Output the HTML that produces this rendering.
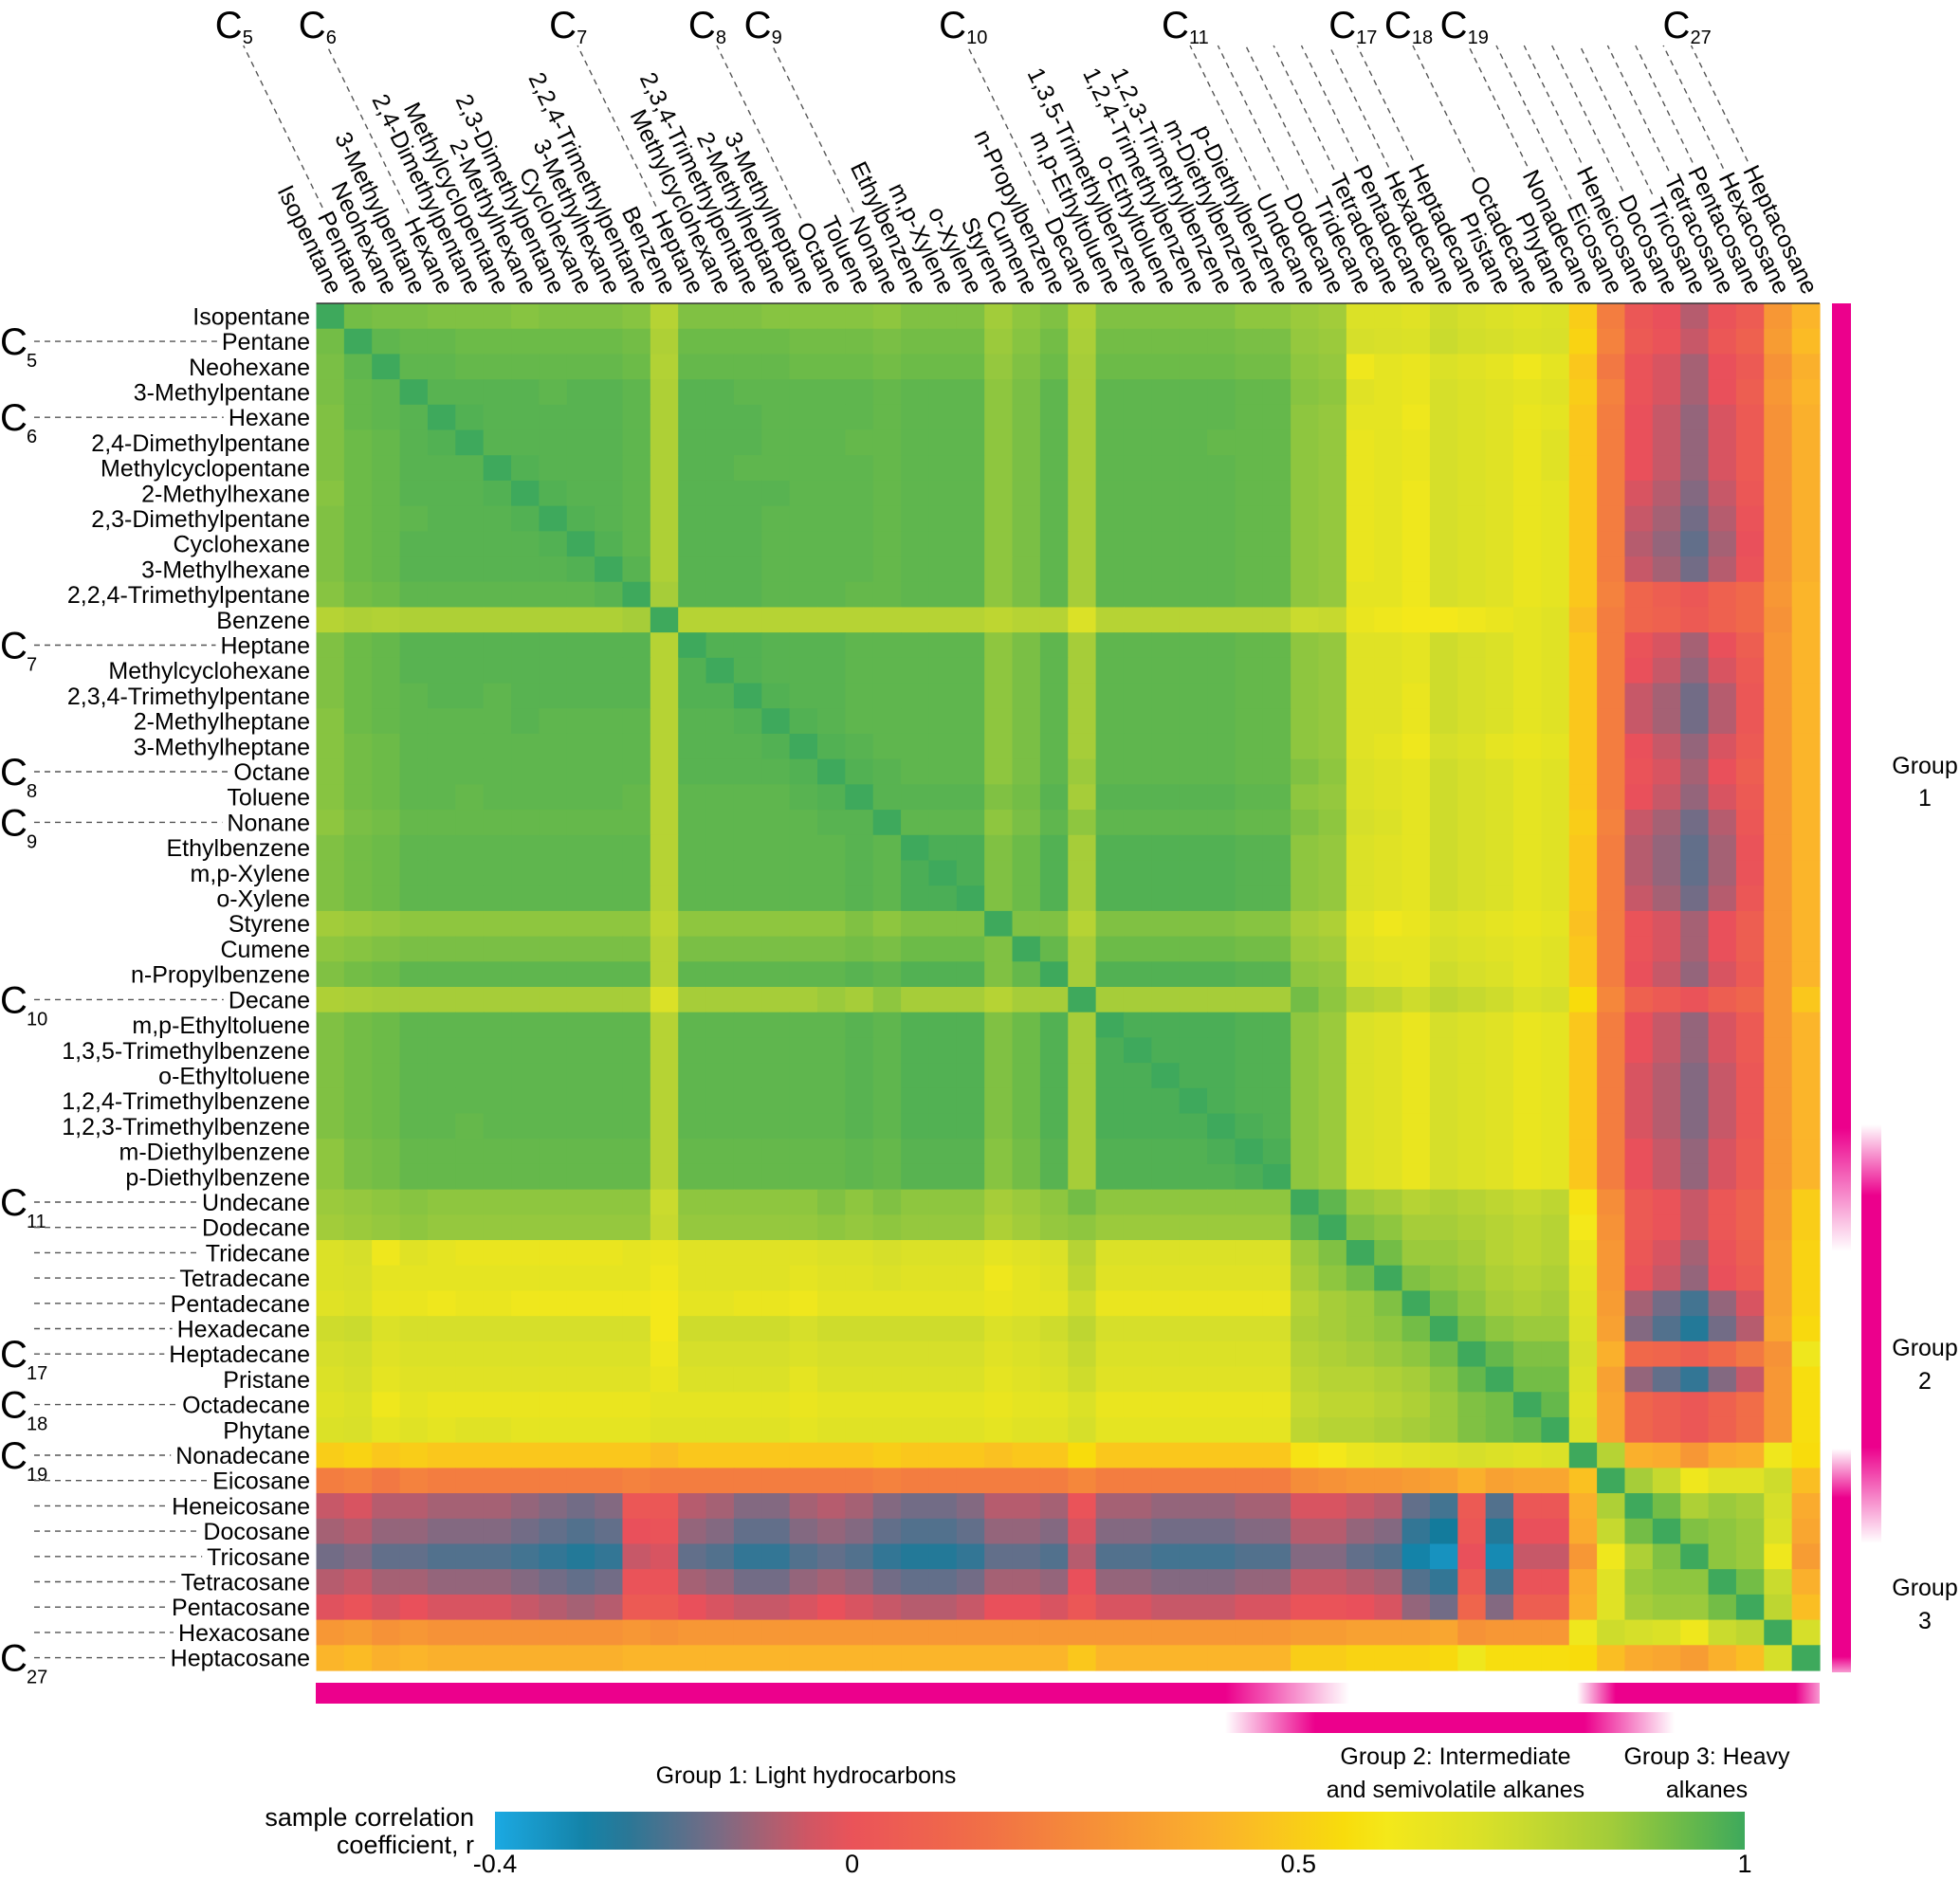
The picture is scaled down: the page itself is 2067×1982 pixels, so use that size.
<!DOCTYPE html>
<html><head><meta charset="utf-8"><title>Correlation heatmap</title>
<style>
html,body{margin:0;padding:0;background:#fff;}
svg{display:block;font-family:"Liberation Sans",Arial,sans-serif;}
</style></head>
<body>
<svg id="chart" xmlns="http://www.w3.org/2000/svg" width="2067" height="1982" viewBox="0 0 2067 1982">
<defs>
<linearGradient id="cbGrad" x1="0" y1="0" x2="1" y2="0"></linearGradient>
<linearGradient id="g1v" x1="0" y1="0" x2="0" y2="1">
<stop offset="0" stop-color="#ec008c"/><stop offset="0.87" stop-color="#ec008c"/><stop offset="1" stop-color="#ec008c" stop-opacity="0"/></linearGradient>
<linearGradient id="g2v" x1="0" y1="0" x2="0" y2="1">
<stop offset="0" stop-color="#ec008c" stop-opacity="0"/><stop offset="0.17" stop-color="#ec008c"/><stop offset="0.77" stop-color="#ec008c"/><stop offset="1" stop-color="#ec008c" stop-opacity="0"/></linearGradient>
<linearGradient id="g3v" x1="0" y1="0" x2="0" y2="1">
<stop offset="0" stop-color="#ec008c" stop-opacity="0"/><stop offset="0.22" stop-color="#ec008c"/><stop offset="0.93" stop-color="#ec008c"/><stop offset="1" stop-color="#ec008c" stop-opacity="0.4"/></linearGradient>
<linearGradient id="g1h" x1="0" y1="0" x2="1" y2="0">
<stop offset="0" stop-color="#ec008c"/><stop offset="0.88" stop-color="#ec008c"/><stop offset="1" stop-color="#ec008c" stop-opacity="0"/></linearGradient>
<linearGradient id="g2h" x1="0" y1="0" x2="1" y2="0">
<stop offset="0" stop-color="#ec008c" stop-opacity="0"/><stop offset="0.2" stop-color="#ec008c"/><stop offset="0.8" stop-color="#ec008c"/><stop offset="1" stop-color="#ec008c" stop-opacity="0"/></linearGradient>
<linearGradient id="g3h" x1="0" y1="0" x2="1" y2="0">
<stop offset="0" stop-color="#ec008c" stop-opacity="0"/><stop offset="0.16" stop-color="#ec008c"/><stop offset="0.9" stop-color="#ec008c"/><stop offset="1" stop-color="#ec008c" stop-opacity="0.4"/></linearGradient>
</defs>
<g id="cells"></g>
<g id="labels"></g>

<rect x="1932" y="320" width="20" height="1000" fill="url(#g1v)"/>
<rect x="1963" y="1186" width="21" height="442" fill="url(#g2v)"/>
<rect x="1932" y="1528" width="20" height="236" fill="url(#g3v)"/>
<rect x="333" y="1775" width="1090" height="22" fill="url(#g1h)"/>
<rect x="1663" y="1775" width="256" height="22" fill="url(#g3h)"/>
<rect x="1292" y="1806" width="474" height="22" fill="url(#g2h)"/>

<g font-size="25" text-anchor="middle" fill="#000"><text x="2030" y="816">Group</text><text x="2030" y="850">1</text></g>
<g font-size="25" text-anchor="middle" fill="#000"><text x="2030" y="1430">Group</text><text x="2030" y="1465">2</text></g>
<g font-size="25" text-anchor="middle" fill="#000"><text x="2030" y="1683">Group</text><text x="2030" y="1718">3</text></g>

<text x="850" y="1881" font-size="25" text-anchor="middle">Group 1: Light hydrocarbons</text>
<g font-size="25" text-anchor="middle"><text x="1535" y="1861">Group 2: Intermediate</text><text x="1535" y="1896">and semivolatile alkanes</text></g>
<g font-size="25" text-anchor="middle"><text x="1800" y="1861">Group 3: Heavy</text><text x="1800" y="1896">alkanes</text></g>

<g font-size="27" text-anchor="end"><text x="500" y="1926">sample correlation</text><text x="500" y="1955">coefficient, r</text></g>
<rect x="522" y="1911" width="1318" height="40" fill="url(#cbGrad)"/>
<g id="cbTicks"></g>
</svg>
<script>
const species = ["Isopentane","Pentane","Neohexane","3-Methylpentane","Hexane","2,4-Dimethylpentane","Methylcyclopentane","2-Methylhexane","2,3-Dimethylpentane","Cyclohexane","3-Methylhexane","2,2,4-Trimethylpentane","Benzene","Heptane","Methylcyclohexane","2,3,4-Trimethylpentane","2-Methylheptane","3-Methylheptane","Octane","Toluene","Nonane","Ethylbenzene","m,p-Xylene","o-Xylene","Styrene","Cumene","n-Propylbenzene","Decane","m,p-Ethyltoluene","1,3,5-Trimethylbenzene","o-Ethyltoluene","1,2,4-Trimethylbenzene","1,2,3-Trimethylbenzene","m-Diethylbenzene","p-Diethylbenzene","Undecane","Dodecane","Tridecane","Tetradecane","Pentadecane","Hexadecane","Heptadecane","Pristane","Octadecane","Phytane","Nonadecane","Eicosane","Heneicosane","Docosane","Tricosane","Tetracosane","Pentacosane","Hexacosane","Heptacosane"];
const carbonIdx = [1,4,13,18,20,27,35,41,43,45,53];
const carbonNum = ["5","6","7","8","9","10","11","17","18","19","27"];
const leaderOnlyIdx = [36,37,38,39,40,46,47,48,49,50,51,52];
const cbTickValues = [-0.4,0,0.5,1];
const cbTickLabels = ["-0.4","0","0.5","1"];
// correlation r x100
const rValues = [
[100,92,91,91,90,90,90,89,90,90,90,89,80,90,90,90,89,89,89,89,88,90,90,90,85,88,90,82,90,90,90,90,90,88,88,86,85,70,70,68,74,72,70,68,70,50,20,2,-2,-8,0,5,30,42],
[92,100,95,94,94,93,93,93,93,93,93,92,82,93,93,93,93,92,92,92,91,92,92,92,86,89,92,83,92,92,92,92,92,91,91,87,86,72,71,70,75,73,72,70,71,52,22,4,0,-6,2,8,32,44],
[91,95,100,95,95,94,94,94,94,94,94,93,81,94,94,94,94,93,93,93,92,93,93,93,87,90,93,84,93,93,93,93,93,92,92,88,87,62,66,64,70,68,66,62,66,48,18,0,-4,-10,-2,4,28,40],
[91,94,95,100,96,96,96,96,95,96,96,95,82,96,96,95,95,95,95,95,94,95,95,95,88,91,95,84,95,95,95,95,95,94,94,89,88,68,66,64,72,70,68,66,68,50,22,0,-4,-10,-2,6,30,42],
[90,94,95,96,100,97,96,96,96,96,96,95,82,96,96,96,95,95,95,95,94,95,95,95,88,91,95,84,95,95,95,95,95,94,94,88,87,66,66,62,72,70,68,64,66,48,20,-2,-6,-12,-4,4,28,40],
[90,93,94,96,97,100,96,96,96,96,96,95,82,96,96,96,95,95,95,94,94,95,95,95,88,91,95,84,95,95,95,95,94,94,94,88,87,64,66,64,72,70,68,64,68,48,20,-2,-6,-12,-4,4,28,40],
[90,93,94,96,96,96,100,97,96,96,96,95,82,96,96,95,95,95,95,95,94,95,95,95,88,91,95,84,95,95,95,95,95,94,94,88,87,64,66,64,72,70,68,64,68,48,20,-2,-6,-12,-4,4,28,40],
[89,93,94,96,96,96,97,100,97,96,96,95,82,96,96,96,96,95,95,95,94,95,95,95,88,91,95,84,95,95,95,95,95,94,94,88,87,64,66,62,72,70,68,64,66,48,20,-4,-8,-14,-6,2,28,40],
[90,93,94,95,96,96,96,97,100,97,96,95,82,96,96,96,95,95,95,95,94,95,95,95,88,91,95,84,95,95,95,95,95,94,94,88,87,64,66,62,72,70,68,64,66,48,20,-6,-10,-16,-8,0,28,40],
[90,93,94,96,96,96,96,96,97,100,97,95,82,96,96,96,95,95,95,95,94,95,95,95,88,91,95,84,95,95,95,95,95,94,94,88,87,64,66,62,72,70,68,64,66,48,20,-8,-12,-18,-10,-2,28,40],
[90,93,94,96,96,96,96,96,96,97,100,96,82,96,96,96,95,95,95,95,94,95,95,95,88,91,95,84,95,95,95,95,95,94,94,88,87,64,66,62,72,70,68,64,66,48,20,-6,-10,-16,-8,0,28,40],
[89,92,93,95,95,95,95,95,95,95,96,100,84,96,96,96,95,95,95,94,94,95,95,95,88,91,95,84,95,95,95,95,95,94,94,88,87,66,66,62,72,70,68,64,66,48,22,10,6,2,8,12,30,42],
[80,82,81,82,82,82,82,82,82,82,82,84,100,80,80,80,80,80,80,80,80,80,80,80,78,80,80,70,80,80,80,80,80,80,80,75,76,64,62,60,60,62,64,66,68,45,20,10,8,4,8,12,28,42],
[90,93,94,96,96,96,96,96,96,96,96,96,80,100,97,97,96,96,96,95,95,95,95,95,88,91,95,84,95,95,95,95,95,94,94,88,87,68,68,66,74,72,70,66,68,48,20,0,-4,-10,-2,6,30,42],
[90,93,94,96,96,96,96,96,96,96,96,96,80,97,100,97,96,96,96,95,95,95,95,95,88,91,95,84,95,95,95,95,95,94,94,88,87,68,68,66,74,72,70,66,68,48,20,-2,-6,-12,-4,4,30,42],
[90,93,94,95,96,96,95,96,96,96,96,96,80,97,97,100,97,96,96,95,95,95,95,95,88,91,95,84,95,95,95,95,95,94,94,88,87,68,68,64,74,72,70,66,68,48,20,-6,-10,-16,-8,2,30,42],
[89,93,94,95,95,95,95,96,95,95,95,95,80,96,96,97,100,97,96,95,95,95,95,95,88,91,95,84,95,95,95,95,95,94,94,88,87,68,68,64,74,72,70,66,68,48,20,-6,-10,-16,-8,2,30,42],
[89,92,93,95,95,95,95,95,95,95,95,95,80,96,96,96,97,100,97,96,95,95,95,95,88,91,95,84,95,95,95,95,95,94,94,88,87,68,66,62,72,70,66,64,66,48,20,-2,-6,-12,-4,4,30,42],
[89,92,93,95,95,95,95,95,95,95,95,95,80,96,96,96,96,97,100,97,96,95,95,95,88,91,95,86,95,95,95,95,95,94,94,90,88,70,68,66,74,72,70,66,68,48,20,0,-4,-10,-2,6,30,42],
[89,92,93,95,95,94,95,95,95,95,95,94,80,95,95,95,95,96,97,100,96,96,96,96,90,92,96,84,96,96,96,96,96,95,95,88,87,70,68,66,74,72,70,66,68,48,20,-2,-6,-12,-4,4,30,42],
[88,91,92,94,94,94,94,94,94,94,94,94,80,95,95,95,95,95,96,96,100,95,95,95,88,91,95,88,95,95,95,95,95,94,94,90,88,72,70,66,74,72,70,66,68,50,22,-6,-10,-16,-8,2,30,42],
[90,92,93,95,95,95,95,95,95,95,95,95,80,95,95,95,95,95,95,96,95,100,98,98,90,93,97,84,97,97,97,97,97,96,96,88,87,70,68,66,74,72,70,66,68,48,20,-8,-12,-18,-10,0,30,42],
[90,92,93,95,95,95,95,95,95,95,95,95,80,95,95,95,95,95,95,96,95,98,100,98,90,93,97,84,97,97,97,97,97,96,96,88,87,70,68,66,74,72,70,66,68,48,20,-8,-12,-18,-10,0,30,42],
[90,92,93,95,95,95,95,95,95,95,95,95,80,95,95,95,95,95,95,96,95,98,98,100,90,93,97,84,97,97,97,97,97,96,96,88,87,70,68,66,74,72,70,66,68,48,20,-6,-10,-16,-8,2,30,42],
[85,86,87,88,88,88,88,88,88,88,88,88,78,88,88,88,88,88,88,90,88,90,90,90,100,90,90,80,90,90,90,90,90,89,89,84,82,66,62,64,70,68,66,64,66,46,20,0,-4,-10,-2,6,30,42],
[88,89,90,91,91,91,91,91,91,91,91,91,80,91,91,91,91,91,91,92,91,93,93,93,90,100,94,84,93,93,93,93,93,92,92,86,85,68,66,66,72,70,68,66,68,48,20,0,-4,-10,-2,6,30,42],
[90,92,93,95,95,95,95,95,95,95,95,95,80,95,95,95,95,95,95,96,95,97,97,97,90,94,100,84,97,97,97,97,97,96,96,88,87,70,68,66,74,72,70,66,68,48,20,-2,-6,-12,-4,4,30,42],
[82,83,84,84,84,84,84,84,84,84,84,84,70,84,84,84,84,84,86,84,88,84,84,84,80,84,84,100,84,84,84,84,84,84,84,92,88,80,78,74,78,76,74,70,72,55,24,8,4,0,6,10,30,48],
[90,92,93,95,95,95,95,95,95,95,95,95,80,95,95,95,95,95,95,96,95,97,97,97,90,93,97,84,100,98,98,98,98,97,97,88,86,70,68,64,72,70,68,64,66,48,20,-2,-6,-12,-4,4,30,42],
[90,92,93,95,95,95,95,95,95,95,95,95,80,95,95,95,95,95,95,96,95,97,97,97,90,93,97,84,98,100,98,98,98,97,97,88,86,70,68,64,72,70,68,64,66,48,20,-2,-6,-12,-4,4,30,42],
[90,92,93,95,95,95,95,95,95,95,95,95,80,95,95,95,95,95,95,96,95,97,97,97,90,93,97,84,98,98,100,98,98,97,97,88,86,70,68,64,72,70,68,64,66,48,20,-4,-8,-14,-6,2,30,42],
[90,92,93,95,95,95,95,95,95,95,95,95,80,95,95,95,95,95,95,96,95,97,97,97,90,93,97,84,98,98,98,100,98,97,97,88,86,70,68,64,72,70,68,64,66,48,20,-4,-8,-14,-6,2,30,42],
[90,92,93,95,95,94,95,95,95,95,95,95,80,95,95,95,95,95,95,96,95,97,97,97,90,93,97,84,98,98,98,98,100,98,97,88,86,70,68,64,72,70,68,64,66,48,20,-4,-8,-14,-6,2,30,42],
[88,91,92,94,94,94,94,94,94,94,94,94,80,94,94,94,94,94,94,95,94,96,96,96,89,92,96,84,97,97,97,97,98,100,98,88,86,70,68,64,72,70,68,64,66,48,20,-2,-6,-12,-4,4,30,42],
[88,91,92,94,94,94,94,94,94,94,94,94,80,94,94,94,94,94,94,95,94,96,96,96,89,92,96,84,97,97,97,97,97,98,100,88,86,70,68,64,72,70,68,64,66,48,20,-2,-6,-12,-4,4,30,42],
[86,87,88,89,88,88,88,88,88,88,88,88,75,88,88,88,88,88,90,88,90,88,88,88,84,86,88,92,88,88,88,88,88,88,88,100,95,86,84,80,82,80,78,76,78,58,26,4,0,-6,2,8,32,50],
[85,86,87,88,87,87,87,87,87,87,87,87,76,87,87,87,87,87,88,87,88,87,87,87,82,85,87,88,86,86,86,86,86,86,86,95,100,90,88,84,84,82,80,78,80,60,28,4,0,-6,2,8,32,50],
[70,72,62,68,66,64,64,64,64,64,64,66,64,68,68,68,68,68,70,70,72,70,70,70,66,68,70,80,70,70,70,70,70,70,70,86,90,100,92,86,86,84,80,78,80,64,30,2,-4,-10,0,6,34,52],
[70,71,66,66,66,66,66,66,66,66,66,66,62,68,68,68,68,66,68,68,70,68,68,68,62,66,68,78,68,68,68,68,68,68,68,84,88,92,100,90,88,86,82,80,82,66,30,0,-6,-12,-2,4,34,52],
[68,70,64,64,62,64,64,62,62,62,62,62,60,66,66,64,64,62,66,66,66,66,66,66,64,66,66,74,64,64,64,64,64,64,64,80,84,86,90,100,92,88,84,82,84,68,32,-10,-16,-22,-12,-4,34,52],
[74,75,70,72,72,72,72,72,72,72,72,72,60,74,74,74,74,72,74,74,74,74,74,74,70,72,74,78,72,72,72,72,72,72,72,82,84,86,88,92,100,92,88,86,86,70,34,-14,-20,-26,-16,-8,36,54],
[72,73,68,70,70,70,70,70,70,70,70,70,62,72,72,72,72,70,72,72,72,72,72,72,68,70,72,76,70,70,70,70,70,70,70,80,82,84,86,88,92,100,94,90,90,72,40,12,10,6,12,18,28,62],
[70,72,66,68,68,68,68,68,68,68,68,68,64,70,70,70,70,66,70,70,70,70,70,70,66,68,70,74,68,68,68,68,68,68,68,78,80,80,82,84,88,94,100,92,92,70,34,-12,-18,-24,-14,-6,30,56],
[68,70,62,66,64,64,64,64,64,64,64,64,66,66,66,66,66,64,66,66,66,66,66,66,64,66,66,70,64,64,64,64,64,64,64,76,78,78,80,82,86,90,92,100,94,68,36,10,6,2,8,14,30,56],
[70,71,66,68,66,68,68,66,66,66,66,66,68,68,68,68,68,66,68,68,68,68,68,68,66,68,68,72,66,66,66,66,66,66,66,78,80,80,82,84,86,90,92,94,100,70,36,10,6,2,8,14,30,56],
[50,52,48,50,48,48,48,48,48,48,48,48,45,48,48,48,48,48,48,48,50,48,48,48,46,48,48,55,48,48,48,48,48,48,48,58,60,64,66,68,70,72,70,68,70,100,80,40,38,30,38,40,62,55],
[20,22,18,22,20,20,20,20,20,20,20,22,20,20,20,20,20,20,20,20,22,20,20,20,20,20,20,24,20,20,20,20,20,20,20,26,28,30,30,32,34,40,34,36,36,46,100,84,76,62,68,68,74,45],
[-6,-4,-8,-8,-10,-10,-10,-12,-14,-16,-14,2,2,-8,-10,-14,-14,-10,-8,-10,-14,-16,-16,-14,-8,-8,-10,0,-10,-10,-12,-12,-12,-10,-10,-4,-4,-6,-8,-18,-22,4,-20,2,2,40,82,100,92,82,86,84,72,38],
[-10,-8,-12,-12,-14,-14,-14,-16,-18,-20,-18,-2,0,-12,-14,-18,-18,-14,-12,-14,-18,-20,-20,-18,-12,-12,-14,-4,-14,-14,-16,-16,-16,-14,-14,-8,-8,-12,-14,-24,-28,2,-26,-2,-2,38,76,92,100,90,88,86,70,36],
[-16,-14,-18,-18,-20,-20,-20,-22,-24,-26,-24,-6,-4,-18,-20,-24,-24,-20,-18,-20,-24,-26,-26,-24,-18,-18,-20,-8,-20,-20,-22,-22,-22,-20,-20,-14,-14,-18,-20,-30,-34,-2,-32,-6,-6,30,62,82,90,100,88,86,62,32],
[-8,-6,-10,-10,-12,-12,-12,-14,-16,-18,-16,0,0,-10,-12,-16,-16,-12,-10,-12,-16,-18,-18,-16,-10,-10,-12,-2,-12,-12,-14,-14,-14,-12,-12,-6,-6,-8,-10,-20,-24,4,-22,0,0,38,68,86,88,88,100,92,75,40],
[-3,0,-4,-2,-4,-4,-4,-6,-8,-10,-8,4,4,-2,-4,-6,-6,-4,-2,-4,-6,-8,-8,-6,-2,-2,-4,2,-4,-4,-6,-6,-6,-4,-4,0,0,-2,-4,-12,-16,10,-14,6,6,40,68,84,86,86,92,100,78,45],
[30,32,28,30,28,28,28,28,28,28,28,30,28,30,30,30,30,30,30,30,30,30,30,30,30,30,30,30,30,30,30,30,30,30,30,32,32,34,34,34,36,28,30,30,30,62,74,72,70,62,75,78,100,72],
[42,44,40,42,40,40,40,40,40,40,40,42,42,42,42,42,42,42,42,42,42,42,42,42,42,42,42,48,42,42,42,42,42,42,42,50,50,52,52,52,54,62,56,56,56,55,45,38,36,32,40,45,72,100]
];

const NS="http://www.w3.org/2000/svg";
const X0=333.5, X1=1919, Y0=320, Y1=1762;
const N=species.length;
const cw=(X1-X0)/N, ch=(Y1-Y0)/N;
function xScale(j){return X0+j*cw;}
function yScale(i){return Y0+i*ch;}
const CB0=522, CB1=1840, RMIN=-0.4, RMAX=1;
function cbScale(v){return CB0+(v-RMIN)/(RMAX-RMIN)*(CB1-CB0);}

const colorStops=[[-0.4,"#1ba9e2"],[-0.28,"#137b9c"],[-0.15,"#7a6b84"],[-0.02,"#e9505b"],[0.12,"#f0684a"],[0.25,"#f58a3a"],[0.42,"#fbb52a"],[0.55,"#f8dc0c"],[0.6,"#f4e81a"],[0.72,"#d6df2a"],[0.85,"#a2cc3a"],[0.93,"#6cbb48"],[1.0,"#3ea95c"]];
function hex2rgb(h){return [parseInt(h.substr(1,2),16),parseInt(h.substr(3,2),16),parseInt(h.substr(5,2),16)];}
function colorFor(r){
  if(r<=colorStops[0][0]) return colorStops[0][1];
  for(let k=1;k<colorStops.length;k++){
    if(r<=colorStops[k][0]){
      const a=colorStops[k-1],b=colorStops[k];
      const t=(r-a[0])/(b[0]-a[0]);
      const ca=hex2rgb(a[1]),cb=hex2rgb(b[1]);
      return "rgb("+ca.map((v,q)=>Math.round(v+(cb[q]-v)*t)).join(",")+")";
    }
  }
  return colorStops[colorStops.length-1][1];
}
function mk(tag,attrs,parent){const e=document.createElementNS(NS,tag);for(const k in attrs)e.setAttribute(k,attrs[k]);parent.appendChild(e);return e;}

const grad=document.getElementById("cbGrad");
for(let k=0;k<=28;k++){
  const v=RMIN+(RMAX-RMIN)*k/28;
  mk("stop",{offset:(k/28).toFixed(3),"stop-color":colorFor(v)},grad);
}

const cells=document.getElementById("cells");
for(let i=0;i<N;i++){
  for(let j=0;j<N;j++){
    const r=mk("rect",{x:xScale(j).toFixed(2),y:yScale(i).toFixed(2),width:(cw+0.6).toFixed(2),height:(ch+0.6).toFixed(2),fill:colorFor(rValues[i][j]/100)},cells);
    
    
  }
}
const topLine=mk("line",{x1:X0,y1:Y0,x2:X1,y2:Y0,stroke:"#333","stroke-width":1.5},cells);



const labels=document.getElementById("labels");
const ANG=64, rad=ANG*Math.PI/180, dx=Math.cos(rad), dy=Math.sin(rad);
const dashAttrs={stroke:"#555","stroke-width":1.4,"stroke-dasharray":"6,5",fill:"none"};

const rowStart=[];
for(let i=0;i<N;i++){
  const t=mk("text",{x:327,y:(yScale(i)+ch/2+9).toFixed(1),"font-size":25,"text-anchor":"end"},labels);
  t.textContent=species[i];
  
  
  rowStart.push(327-t.getComputedTextLength());
}
const colStart=[];
for(let j=0;j<N;j++){
  const ex=xScale(j)+cw/2-2, ey=Y0-8;
  const t=mk("text",{x:0,y:0,"font-size":25,"text-anchor":"end",transform:"translate("+ex.toFixed(1)+","+ey.toFixed(1)+") rotate("+ANG+")"},labels);
  t.textContent=species[j];
  
  
  const L=t.getComputedTextLength();
  colStart.push([ex-L*dx+8,ey-L*dy-4]);
}
function topLeader(j){
  const s=colStart[j];
  const topY=48;
  const tx=s[0]-(s[1]-topY)/Math.tan(rad);
  const ln=mk("line",{x1:(s[0]-6*dx).toFixed(1),y1:(s[1]-6*dy).toFixed(1),x2:tx.toFixed(1),y2:topY},labels);
  for(const k in dashAttrs) ln.setAttribute(k,dashAttrs[k]);
  
  
  return tx;
}
function leftLeader(i){
  const y=(yScale(i)+ch/2).toFixed(1);
  const ln=mk("line",{x1:36,y1:y,x2:(rowStart[i]-5).toFixed(1),y2:y},labels);
  for(const k in dashAttrs) ln.setAttribute(k,dashAttrs[k]);
  
  
}
carbonIdx.forEach((idx,k)=>{
  const tx=topLeader(idx);
  const c=mk("text",{x:(tx-30).toFixed(1),y:40,"font-size":40},labels);
  c.textContent="C";
  
  
  const s=mk("text",{x:(tx-1).toFixed(1),y:46,"font-size":20},labels);
  s.textContent=carbonNum[k];
  
  
  leftLeader(idx);
  const yc=yScale(idx)+ch/2;
  const lc=mk("text",{x:0,y:(yc+14).toFixed(1),"font-size":40},labels);
  lc.textContent="C";
  
  
  const ls=mk("text",{x:28,y:(yc+27).toFixed(1),"font-size":20},labels);
  ls.textContent=carbonNum[k];
  
  
});
leaderOnlyIdx.forEach(idx=>{topLeader(idx);leftLeader(idx);});

const cbt=document.getElementById("cbTicks");
cbTickValues.forEach((v,k)=>{
  const t=mk("text",{x:cbScale(v).toFixed(1),y:1983-8,"font-size":27,"text-anchor":"middle"},cbt);
  t.textContent=cbTickLabels[k];
  
  
});
</script>
</body></html>
